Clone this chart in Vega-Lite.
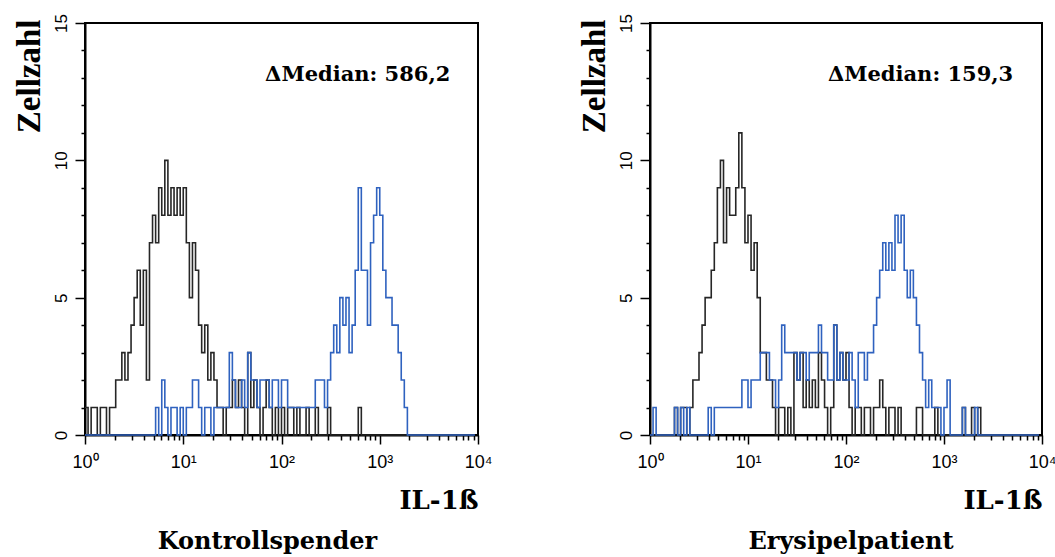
{
  "$schema": "https://vega.github.io/schema/vega-lite/v6.json",
  "background": "white",
  "padding": {"left": 11, "top": 12, "right": 2, "bottom": 0},
  "spacing": 172,
  "bounds": "flush",
  "datasets": {
    "facs": [
      {"c":0,"kb":1,"ku":0,"eb":0,"eu":0},{"c":1,"kb":0,"ku":0,"eb":0,"eu":1},{"c":2,"kb":1,"ku":0,"eb":0,"eu":0},{"c":3,"kb":1,"ku":0,"eb":0,"eu":0},
      {"c":4,"kb":0,"ku":0,"eb":0,"eu":0},{"c":5,"kb":1,"ku":0,"eb":0,"eu":0},{"c":6,"kb":1,"ku":0,"eb":0,"eu":0},{"c":7,"kb":0,"ku":0,"eb":0,"eu":0},
      {"c":8,"kb":1,"ku":0,"eb":1,"eu":1},{"c":9,"kb":1,"ku":0,"eb":0,"eu":0},{"c":10,"kb":2,"ku":0,"eb":1,"eu":1},{"c":11,"kb":2,"ku":0,"eb":1,"eu":0},
      {"c":12,"kb":3,"ku":0,"eb":0,"eu":1},{"c":13,"kb":2,"ku":0,"eb":1,"eu":0},{"c":14,"kb":3,"ku":0,"eb":2,"eu":0},{"c":15,"kb":4,"ku":0,"eb":2,"eu":0},
      {"c":16,"kb":5,"ku":0,"eb":3,"eu":0},{"c":17,"kb":6,"ku":0,"eb":4,"eu":0},{"c":18,"kb":4,"ku":0,"eb":5,"eu":0},{"c":19,"kb":6,"ku":0,"eb":5,"eu":1},
      {"c":20,"kb":2,"ku":0,"eb":6,"eu":0},{"c":21,"kb":7,"ku":0,"eb":7,"eu":1},{"c":22,"kb":8,"ku":0,"eb":9,"eu":1},{"c":23,"kb":7,"ku":1,"eb":10,"eu":1},
      {"c":24,"kb":9,"ku":0,"eb":7,"eu":1},{"c":25,"kb":8,"ku":2,"eb":9,"eu":1},{"c":26,"kb":10,"ku":1,"eb":8,"eu":1},{"c":27,"kb":8,"ku":0,"eb":8,"eu":1},
      {"c":28,"kb":9,"ku":1,"eb":9,"eu":1},{"c":29,"kb":8,"ku":1,"eb":11,"eu":1},{"c":30,"kb":9,"ku":0,"eb":9,"eu":2},{"c":31,"kb":8,"ku":1,"eb":7,"eu":2},
      {"c":32,"kb":9,"ku":0,"eb":8,"eu":1},{"c":33,"kb":7,"ku":1,"eb":6,"eu":2},{"c":34,"kb":5,"ku":1,"eb":7,"eu":2},{"c":35,"kb":7,"ku":2,"eb":5,"eu":2},
      {"c":36,"kb":6,"ku":2,"eb":3,"eu":3},{"c":37,"kb":4,"ku":1,"eb":3,"eu":3},{"c":38,"kb":3,"ku":0,"eb":2,"eu":3},{"c":39,"kb":4,"ku":1,"eb":2,"eu":2},
      {"c":40,"kb":2,"ku":1,"eb":1,"eu":2},{"c":41,"kb":3,"ku":0,"eb":0,"eu":1},{"c":42,"kb":2,"ku":1,"eb":1,"eu":2},{"c":43,"kb":1,"ku":1,"eb":1,"eu":4},
      {"c":44,"kb":1,"ku":1,"eb":0,"eu":3},{"c":45,"kb":0,"ku":1,"eb":1,"eu":3},{"c":46,"kb":1,"ku":1,"eb":0,"eu":3},{"c":47,"kb":1,"ku":3,"eb":3,"eu":3},
      {"c":48,"kb":2,"ku":2,"eb":2,"eu":2},{"c":49,"kb":1,"ku":1,"eb":3,"eu":3},{"c":50,"kb":2,"ku":1,"eb":1,"eu":3},{"c":51,"kb":1,"ku":2,"eb":2,"eu":2},
      {"c":52,"kb":0,"ku":1,"eb":1,"eu":3},{"c":53,"kb":3,"ku":3,"eb":2,"eu":3},{"c":54,"kb":1,"ku":2,"eb":1,"eu":3},{"c":55,"kb":2,"ku":2,"eb":3,"eu":4},
      {"c":56,"kb":1,"ku":1,"eb":2,"eu":3},{"c":57,"kb":0,"ku":2,"eb":1,"eu":3},{"c":58,"kb":1,"ku":2,"eb":0,"eu":2},{"c":59,"kb":2,"ku":2,"eb":1,"eu":2},
      {"c":60,"kb":1,"ku":1,"eb":4,"eu":4},{"c":61,"kb":0,"ku":2,"eb":2,"eu":2},{"c":62,"kb":1,"ku":2,"eb":3,"eu":3},{"c":63,"kb":0,"ku":1,"eb":2,"eu":2},
      {"c":64,"kb":1,"ku":2,"eb":3,"eu":2},{"c":65,"kb":0,"ku":2,"eb":1,"eu":3},{"c":66,"kb":1,"ku":1,"eb":0,"eu":2},{"c":67,"kb":1,"ku":1,"eb":1,"eu":1},
      {"c":68,"kb":0,"ku":1,"eb":1,"eu":3},{"c":69,"kb":1,"ku":1,"eb":0,"eu":3},{"c":70,"kb":0,"ku":1,"eb":1,"eu":2},{"c":71,"kb":0,"ku":1,"eb":1,"eu":3},
      {"c":72,"kb":1,"ku":1,"eb":0,"eu":3},{"c":73,"kb":0,"ku":1,"eb":1,"eu":4},{"c":74,"kb":0,"ku":1,"eb":1,"eu":5},{"c":75,"kb":1,"ku":2,"eb":2,"eu":6},
      {"c":76,"kb":0,"ku":2,"eb":1,"eu":7},{"c":77,"kb":0,"ku":2,"eb":0,"eu":6},{"c":78,"kb":0,"ku":1,"eb":1,"eu":7},{"c":79,"kb":1,"ku":2,"eb":1,"eu":6},
      {"c":80,"kb":0,"ku":3,"eb":0,"eu":8},{"c":81,"kb":0,"ku":4,"eb":1,"eu":7},{"c":82,"kb":0,"ku":3,"eb":0,"eu":8},{"c":83,"kb":0,"ku":5,"eb":0,"eu":6},
      {"c":84,"kb":0,"ku":4,"eb":0,"eu":5},{"c":85,"kb":0,"ku":5,"eb":0,"eu":6},{"c":86,"kb":0,"ku":3,"eb":0,"eu":5},{"c":87,"kb":0,"ku":4,"eb":1,"eu":4},
      {"c":88,"kb":0,"ku":6,"eb":1,"eu":3},{"c":89,"kb":1,"ku":9,"eb":0,"eu":2},{"c":90,"kb":0,"ku":6,"eb":0,"eu":1},{"c":91,"kb":0,"ku":6,"eb":0,"eu":2},
      {"c":92,"kb":0,"ku":4,"eb":0,"eu":1},{"c":93,"kb":0,"ku":7,"eb":1,"eu":1},{"c":94,"kb":0,"ku":8,"eb":0,"eu":1},{"c":95,"kb":0,"ku":9,"eb":0,"eu":0},
      {"c":96,"kb":0,"ku":8,"eb":0,"eu":1},{"c":97,"kb":0,"ku":6,"eb":0,"eu":2},{"c":98,"kb":0,"ku":5,"eb":0,"eu":0},{"c":99,"kb":0,"ku":5,"eb":0,"eu":0},
      {"c":100,"kb":0,"ku":4,"eb":0,"eu":0},{"c":101,"kb":0,"ku":4,"eb":0,"eu":0},{"c":102,"kb":0,"ku":3,"eb":1,"eu":1},{"c":103,"kb":0,"ku":2,"eb":0,"eu":0},
      {"c":104,"kb":0,"ku":1,"eb":0,"eu":0},{"c":105,"kb":0,"ku":0,"eb":1,"eu":0},{"c":106,"kb":0,"ku":0,"eb":0,"eu":1},{"c":107,"kb":0,"ku":0,"eb":1,"eu":0},
      {"c":108,"kb":0,"ku":0,"eb":0,"eu":0},{"c":109,"kb":0,"ku":0,"eb":0,"eu":0},{"c":110,"kb":0,"ku":0,"eb":0,"eu":0},{"c":111,"kb":0,"ku":0,"eb":0,"eu":0},
      {"c":112,"kb":0,"ku":0,"eb":0,"eu":0},{"c":113,"kb":0,"ku":0,"eb":0,"eu":0},{"c":114,"kb":0,"ku":0,"eb":0,"eu":0},{"c":115,"kb":0,"ku":0,"eb":0,"eu":0},
      {"c":116,"kb":0,"ku":0,"eb":0,"eu":0},{"c":117,"kb":0,"ku":0,"eb":0,"eu":0},{"c":118,"kb":0,"ku":0,"eb":0,"eu":0},{"c":119,"kb":0,"ku":0,"eb":0,"eu":0},
      {"c":120,"kb":0,"ku":0,"eb":0,"eu":0},{"c":121,"kb":0,"ku":0,"eb":0,"eu":0},{"c":122,"kb":0,"ku":0,"eb":0,"eu":0},{"c":123,"kb":0,"ku":0,"eb":0,"eu":0},
      {"c":124,"kb":0,"ku":0,"eb":0,"eu":0},{"c":125,"kb":0,"ku":0,"eb":0,"eu":0},{"c":126,"kb":0,"ku":0,"eb":0,"eu":0},{"c":127,"kb":0,"ku":0,"eb":0,"eu":0}
    ]
  },
  "config": {
    "view": {"stroke": "black", "strokeWidth": 2},
    "axis": {
      "domainColor": "black", "domainWidth": 2, "tickColor": "black", "tickWidth": 1.5,
      "labelColor": "black", "labelFont": "Liberation Sans", "labelFontSize": 17, "grid": false, "titleColor": "black"
    },
    "title": {"font": "DejaVu Serif", "fontWeight": "bold", "fontSize": 24, "color": "black", "orient": "bottom", "offset": 17}
  },
  "hconcat": [
    {
      "width": 393, "height": 412,
      "title": {"text": "Kontrollspender", "dx": -14},
      "resolve": {"axis": {"x": "independent", "y": "independent"}},
      "layer": [
        {
          "data": {"name": "facs"},
          "transform": [{"fold": ["kb", "ku"], "as": ["serie", "n"]}],
          "mark": {"type": "line", "interpolate": "step-after", "strokeWidth": 1.6},
          "encoding": {
            "x": {"field": "c", "type": "quantitative", "scale": {"domain": [0, 128], "nice": false, "zero": false},
              "axis": {"orient": "bottom", "title": "IL-1ß", "titleFont": "DejaVu Serif", "titleFontWeight": "bold", "titleFontSize": 26,
                "titleX": 393, "titleY": 73, "titleAlign": "right", "titleBaseline": "alphabetic",
                "values": [0, 32, 64, 96, 128], "tickCount": 500, "tickSize": 9,
                "labelExpr": "datum.value==0?'10⁰':datum.value==32?'10¹':datum.value==64?'10²':datum.value==96?'10³':'10⁴'",
                "labelPadding": 9, "labelFlush": false, "labelOverlap": false, "labelFontSize": 18, "labelBaseline": "top"}},
            "y": {"field": "n", "type": "quantitative", "scale": {"domain": [0, 15], "nice": false},
              "axis": {"orient": "left", "title": "Zellzahl", "titleFont": "Liberation Serif", "titleFontWeight": "bold", "titleFontSize": 33,
                "titleAngle": -90, "titleX": -46, "titleY": -4, "titleAlign": "right", "titleBaseline": "alphabetic",
                "values": [0, 5, 10, 15], "tickCount": 500, "tickSize": 10, "format": "d",
                "labelAngle": -90, "labelAlign": "center", "labelBaseline": "alphabetic", "labelPadding": 9, "labelFlush": false, "labelOverlap": false}},
            "color": {"field": "serie", "type": "nominal", "legend": null,
              "scale": {"domain": ["kb", "ku", "eb", "eu"], "range": ["#262626", "#2f62bf", "#262626", "#2f62bf"]}}
          }
        },
        {
          "data": {"values": [{"label": "ΔMedian: 586,2", "x": 119, "y": 13.1}]},
          "mark": {"type": "text", "font": "DejaVu Serif", "fontWeight": "bold", "fontSize": 21, "align": "right", "baseline": "middle", "color": "black"},
          "encoding": {
            "x": {"field": "x", "type": "quantitative",
              "axis": {"orient": "bottom", "title": null, "labels": false, "domain": false, "tickSize": 5, "tickCount": 500,
                "values": [9.633, 15.268, 19.266, 22.367, 24.901, 27.043, 28.899, 30.536, 41.633, 47.268, 51.266, 54.367, 56.901, 59.043, 60.899, 62.536, 73.633, 79.268, 83.266, 86.367, 88.901, 91.043, 92.899, 94.536, 105.633, 111.268, 115.266, 118.367, 120.901, 123.043, 124.899, 126.536]}},
            "y": {"field": "y", "type": "quantitative",
              "axis": {"orient": "left", "title": null, "labels": false, "domain": false, "tickSize": 4, "tickCount": 500,
                "values": [1, 2, 3, 4, 6, 7, 8, 9, 11, 12, 13, 14]}},
            "text": {"field": "label"}
          }
        }
      ]
    },
    {
      "width": 392, "height": 412,
      "title": {"text": "Erysipelpatient", "dx": 5},
      "resolve": {"axis": {"x": "independent", "y": "independent"}},
      "layer": [
        {
          "data": {"name": "facs"},
          "transform": [{"fold": ["eb", "eu"], "as": ["serie", "n"]}],
          "mark": {"type": "line", "interpolate": "step-after", "strokeWidth": 1.6},
          "encoding": {
            "x": {"field": "c", "type": "quantitative", "scale": {"domain": [0, 128], "nice": false, "zero": false},
              "axis": {"orient": "bottom", "title": "IL-1ß", "titleFont": "DejaVu Serif", "titleFontWeight": "bold", "titleFontSize": 26,
                "titleX": 392, "titleY": 73, "titleAlign": "right", "titleBaseline": "alphabetic",
                "values": [0, 32, 64, 96, 128], "tickCount": 500, "tickSize": 9,
                "labelExpr": "datum.value==0?'10⁰':datum.value==32?'10¹':datum.value==64?'10²':datum.value==96?'10³':'10⁴'",
                "labelPadding": 9, "labelFlush": false, "labelOverlap": false, "labelFontSize": 18, "labelBaseline": "top"}},
            "y": {"field": "n", "type": "quantitative", "scale": {"domain": [0, 15], "nice": false},
              "axis": {"orient": "left", "title": "Zellzahl", "titleFont": "Liberation Serif", "titleFontWeight": "bold", "titleFontSize": 33,
                "titleAngle": -90, "titleX": -46, "titleY": -4, "titleAlign": "right", "titleBaseline": "alphabetic",
                "values": [0, 5, 10, 15], "tickCount": 500, "tickSize": 10, "format": "d",
                "labelAngle": -90, "labelAlign": "center", "labelBaseline": "alphabetic", "labelPadding": 9, "labelFlush": false, "labelOverlap": false}},
            "color": {"field": "serie", "type": "nominal", "legend": null,
              "scale": {"domain": ["kb", "ku", "eb", "eu"], "range": ["#262626", "#2f62bf", "#262626", "#2f62bf"]}}
          }
        },
        {
          "data": {"values": [{"label": "ΔMedian: 159,3", "x": 118.6, "y": 13.1}]},
          "mark": {"type": "text", "font": "DejaVu Serif", "fontWeight": "bold", "fontSize": 21, "align": "right", "baseline": "middle", "color": "black"},
          "encoding": {
            "x": {"field": "x", "type": "quantitative",
              "axis": {"orient": "bottom", "title": null, "labels": false, "domain": false, "tickSize": 5, "tickCount": 500,
                "values": [9.633, 15.268, 19.266, 22.367, 24.901, 27.043, 28.899, 30.536, 41.633, 47.268, 51.266, 54.367, 56.901, 59.043, 60.899, 62.536, 73.633, 79.268, 83.266, 86.367, 88.901, 91.043, 92.899, 94.536, 105.633, 111.268, 115.266, 118.367, 120.901, 123.043, 124.899, 126.536]}},
            "y": {"field": "y", "type": "quantitative",
              "axis": {"orient": "left", "title": null, "labels": false, "domain": false, "tickSize": 4, "tickCount": 500,
                "values": [1, 2, 3, 4, 6, 7, 8, 9, 11, 12, 13, 14]}},
            "text": {"field": "label"}
          }
        }
      ]
    }
  ]
}
